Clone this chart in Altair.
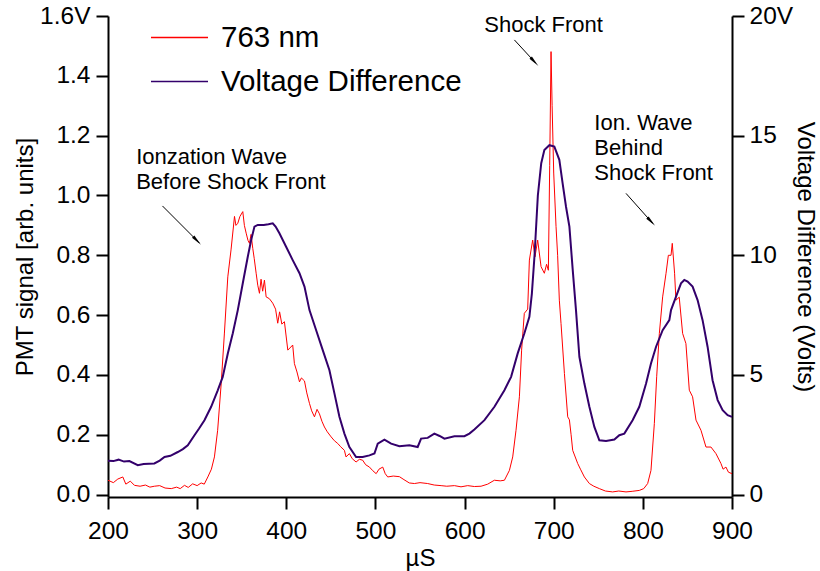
import altair as alt
import pandas as pd

# ---------------- data ----------------
red_t = [200, 206, 211, 216.6, 220, 225, 229.7, 236, 242, 247, 252, 258, 264, 271, 277, 281,
         285.8, 290, 295, 300, 304.5, 308, 312, 316, 319.4, 323, 327, 330.6, 334.4, 338, 341.9,
         343.5, 345.6, 348, 351.2, 353, 355, 357, 358.7, 360.5, 362.4, 364, 366.2, 368, 369.9,
         371.7, 373.5, 375.5, 377.4, 381, 384.8, 388, 390.4, 392.5, 395, 397.9, 401.7, 404,
         407.2, 409.1, 412, 414.8, 417, 420.4, 423, 426, 428.5, 431.6, 434.5, 437.2, 440, 442.8,
         446, 450.3, 454, 457.7, 461, 465.2, 467, 470.8, 474, 478.3, 482, 485.7, 489, 493.3, 497,
         500.8, 504, 508.2, 511, 513.8, 520, 526.9, 532, 538, 543.7, 550, 558.6, 566, 573.7, 580,
         588.6, 596, 603.5, 611, 618.5, 626, 633.4, 640, 644.7, 650.3, 654, 657.7, 661.5, 664,
         667, 670.8, 672.7, 676.4, 679, 682, 685.8, 689.5, 692, 694, 695.5, 697, 698.2, 700,
         702.6, 704.4, 706.3, 708.2, 712, 715.7, 717.6, 719.5, 721.3, 726.9, 730, 734.4, 740,
         745, 751.2, 758, 766.1, 773, 781.1, 788, 796, 801, 805.4, 809.1, 812.9, 815.5, 818.5,
         822.2, 826, 828.6, 831.6, 833, 835.6, 837.1, 840.8, 844.6, 848.3, 852.1, 855.8, 859.6,
         865.2, 870.8, 876.4, 882, 887.6, 890, 893.2, 896, 900]
red_v = [0.048, 0.040, 0.052, 0.059, 0.035, 0.045, 0.031, 0.028, 0.032, 0.025, 0.028, 0.030,
         0.022, 0.020, 0.025, 0.020, 0.031, 0.024, 0.036, 0.030, 0.039, 0.035, 0.059, 0.085,
         0.126, 0.215, 0.372, 0.54, 0.728, 0.818, 0.93, 0.90, 0.907, 0.93, 0.946, 0.90, 0.874,
         0.85, 0.84, 0.87, 0.823, 0.79, 0.74, 0.70, 0.673, 0.72, 0.68, 0.717, 0.661, 0.655,
         0.64, 0.62, 0.573, 0.611, 0.57, 0.578, 0.483, 0.49, 0.50, 0.438, 0.41, 0.377, 0.39,
         0.38, 0.34, 0.305, 0.28, 0.26, 0.285, 0.27, 0.245, 0.226, 0.21, 0.193, 0.18, 0.171,
         0.16, 0.148, 0.126, 0.137, 0.12, 0.109, 0.118, 0.115, 0.10, 0.092, 0.08, 0.07, 0.085,
         0.092, 0.07, 0.059, 0.062, 0.06, 0.05, 0.039, 0.037, 0.04, 0.037, 0.032, 0.030, 0.028,
         0.030, 0.026, 0.030, 0.027, 0.028, 0.035, 0.048, 0.046, 0.048, 0.081, 0.126, 0.215,
         0.327, 0.483, 0.606, 0.62, 0.784, 0.851, 0.795, 0.851, 0.762, 0.74, 0.77, 0.75, 1.1,
         1.481, 1.30, 1.075, 0.896, 0.80, 0.65, 0.572, 0.405, 0.26, 0.25, 0.20, 0.148, 0.104,
         0.085, 0.059, 0.037, 0.028, 0.02, 0.012, 0.009, 0.012, 0.009, 0.011, 0.014, 0.02,
         0.037, 0.081, 0.238, 0.394, 0.539, 0.661, 0.74, 0.80, 0.80, 0.84, 0.74, 0.65, 0.66,
         0.539, 0.505, 0.349, 0.327, 0.249, 0.215, 0.159, 0.159, 0.137, 0.104, 0.085, 0.092,
         0.075, 0.07]

volt_t = [200, 206, 211.9, 218, 224, 233.4, 240, 252, 258, 263.4, 270, 278.3, 284, 289.5, 297,
          302, 308.2, 315.7, 323.1, 328.7, 334.4, 340, 345.6, 351.2, 356.8, 360.6, 364.3, 368,
          374.7, 380, 384.8, 388, 392.3, 399.8, 407.2, 414.8, 420.4, 426, 433.5, 440.9, 448.4,
          454, 459.6, 465.2, 470.8, 478.3, 485.7, 493.3, 498.9, 502.6, 510.1, 517.6, 526.9,
          538.1, 547.4, 551.2, 558.6, 566.1, 572, 577.4, 588.6, 599.8, 605.4, 611, 622.3, 633.5,
          644.7, 652.2, 659.6, 667.1, 672.7, 675.5, 678.5, 682.2, 686, 689.5, 695.1, 700.7,
          706.3, 710, 713.8, 717.6, 721.3, 725, 728.8, 734.4, 740, 745.6, 751.2, 758.7, 768,
          773.6, 779.2, 788.5, 796, 803.6, 809.1, 814.8, 822.2, 829.7, 831.6, 837.2, 842.8,
          846.5, 850.2, 855.8, 861.4, 867, 872.6, 878.2, 883.9, 889.5, 895.1, 900]
volt_v = [1.41, 1.40, 1.46, 1.38, 1.40, 1.23, 1.28, 1.30, 1.42, 1.57, 1.62, 1.78, 1.90, 2.06,
          2.48, 2.75, 3.11, 3.67, 4.36, 4.92, 5.9, 6.74, 7.71, 8.83, 9.94, 10.64, 11.2, 11.27,
          11.27, 11.30, 11.34, 11.2, 10.92, 10.36, 9.8, 9.25, 8.69, 7.71, 6.87, 6.04, 5.2, 4.23,
          3.25, 2.55, 1.99, 1.57, 1.57, 1.64, 1.72, 2.13, 2.30, 2.13, 2.02, 2.06, 1.99, 2.34,
          2.37, 2.55, 2.45, 2.34, 2.44, 2.44, 2.55, 2.72, 3.11, 3.67, 4.36, 4.92, 5.9, 6.74,
          7.43, 8.4, 10.0, 12.5, 13.85, 14.4, 14.6, 14.54, 13.99, 13.01, 12.03, 11.2, 9.4, 7.7,
          5.76, 4.64, 3.67, 2.83, 2.27, 2.24, 2.30, 2.48, 2.55, 3.11, 3.67, 4.64, 5.48, 6.18,
          6.87, 7.29, 7.71, 8.27, 8.83, 8.97, 8.9, 8.69, 8.13, 7.29, 6.18, 4.78, 3.95, 3.53,
          3.32, 3.25]

SERIES = ["763 nm", "Voltage Difference"]
COLORS = ["#ff0000", "#33006b"]

# annotation text lines (left edge, baseline) in PMT-axis units
note_text = ["Ionzation Wave", "Before Shock Front", "Shock Front",
             "Ion. Wave", "Behind", "Shock Front"]
note_t = [231.6, 231.6, 622.1, 745.6, 745.6, 745.6]
note_v = [1.105, 1.022, 1.548, 1.219, 1.136, 1.052]

# arrows (start -> end) in PMT-axis units
arrow_t0 = [261.1, 655.9, 781.1]
arrow_v0 = [0.965, 1.520, 1.007]
arrow_t1 = [302.6, 679.4, 811.0]
arrow_v1 = [0.841, 1.444, 0.907]

X_TICKS = [200, 300, 400, 500, 600, 700, 800, 900]
YL_TICKS = [0, 0.2, 0.4, 0.6, 0.8, 1.0, 1.2, 1.4, 1.6]
YR_TICKS = [0, 5, 10, 15, 20]

FONT = "Liberation Sans"

# ---------------- frames ----------------
red_df = pd.DataFrame({"t": red_t, "v": red_v, "series": SERIES[0]})
volt_df = pd.DataFrame({"t": volt_t, "v": volt_v, "series": SERIES[1]})
note_df = pd.DataFrame({"t": note_t, "v": note_v, "label": note_text})
arrow_df = pd.DataFrame({"t": arrow_t0, "v": arrow_v0, "t2": arrow_t1, "v2": arrow_v1})
head_df = pd.DataFrame({
    "t": [a1 - 0.1 * (a1 - a0) for a0, a1 in zip(arrow_t0, arrow_t1)],
    "v": [b1 - 0.1 * (b1 - b0) for b0, b1 in zip(arrow_v0, arrow_v1)],
})

# ---------------- scales / axes ----------------
xscale = alt.Scale(domain=[200, 900], nice=False, zero=False)
yl_scale = alt.Scale(domain=[-0.008, 1.6], nice=False, zero=False)
yr_scale = alt.Scale(domain=[-0.1, 20], nice=False, zero=False)

tick_style = dict(ticks=True, tickColor="black", tickWidth=2, tickSize=12, tickOpacity=1,
                  domainColor="black", domainWidth=2, labelFlush=False)

x_axis = alt.Axis(title="µS", values=X_TICKS, format="d", labelPadding=10, titlePadding=4,
                  **tick_style)
yl_axis = alt.Axis(title="PMT signal [arb. units]", values=YL_TICKS, orient="left",
                   labelExpr="datum.value == 1.6 ? '1.6V' : format(datum.value, '.1f')",
                   labelPadding=6, titlePadding=2, **tick_style)
yr_axis = alt.Axis(title="Voltage Difference (Volts)", values=YR_TICKS, orient="right",
                   labelExpr="datum.value == 20 ? '20V' : format(datum.value, 'd')",
                   labelPadding=5, titlePadding=0, **tick_style)

X = alt.X("t:Q", scale=xscale, axis=x_axis)
YL = alt.Y("v:Q", scale=yl_scale, axis=yl_axis)

color = alt.Color(
    "series:N",
    scale=alt.Scale(domain=SERIES, range=COLORS),
    legend=alt.Legend(
        title=None, orient="none", legendX=42, legendY=-8, padding=0,
        symbolType="stroke", symbolSize=3249, symbolStrokeWidth=1.3,
        labelFont=FONT, labelFontSize=29.5, labelColor="black", labelOffset=12,
        labelLimit=500, rowPadding=-20,
    ),
)

red = alt.Chart(red_df).mark_line(strokeWidth=1).encode(x=X, y=YL, color=color)

notes = alt.Chart(note_df).mark_text(
    align="left", baseline="alphabetic", font=FONT, fontSize=22, color="black"
).encode(x=X, y=YL, text="label:N")

arrows = alt.Chart(arrow_df).mark_rule(color="black", strokeWidth=1).encode(
    x=X, y=YL, x2="t2:Q", y2="v2:Q")

heads = alt.Chart(head_df).mark_point(
    shape="wedge", filled=True, color="black", size=170, angle=137, opacity=1
).encode(x=X, y=YL)

left_layer = alt.layer(red, arrows, heads, notes)

volt = alt.Chart(volt_df).mark_line(strokeWidth=2).encode(
    x=X, y=alt.Y("v:Q", scale=yr_scale, axis=yr_axis), color=color)

chart = (
    alt.layer(left_layer, volt)
    .resolve_scale(y="independent")
    .properties(width=624, height=481, autosize=alt.AutoSizeParams(type="none"),
                padding={"left": 108, "top": 16, "right": 88, "bottom": 74})
    .configure_view(stroke=None)
    .configure_axis(
        grid=False, labelFont=FONT, labelFontSize=24.5, labelColor="black",
        titleFont=FONT, titleFontSize=24, titleFontWeight="normal", titleColor="black",
    )
)

chart.save("out.html", embed_options={"renderer": "svg", "actions": False})
